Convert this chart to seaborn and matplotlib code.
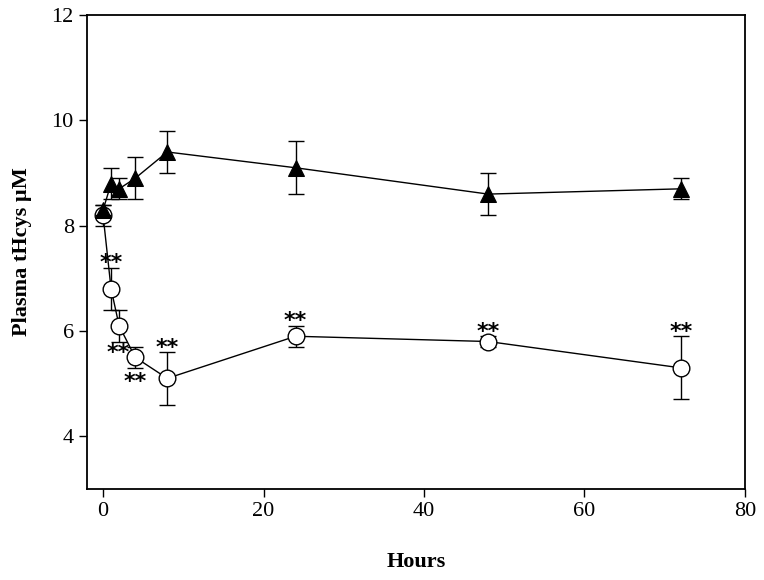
import matplotlib
matplotlib.use("Agg")
import matplotlib.pyplot as plt
import seaborn as sns
import pandas as pd

hours = [0, 1, 2, 4, 8, 24, 48, 72]
tri_mean = [8.3, 8.8, 8.7, 8.9, 9.4, 9.1, 8.6, 8.7]
tri_err = [0.1, 0.3, 0.2, 0.4, 0.4, 0.5, 0.4, 0.2]
circ_mean = [8.2, 6.8, 6.1, 5.5, 5.1, 5.9, 5.8, 5.3]
circ_err = [0.2, 0.4, 0.3, 0.2, 0.5, 0.2, 0.1, 0.6]
# significance markers: (hour index, placement)
sig_idx = [1, 2, 3, 4, 5, 6, 7]
sig_pos = ["above", "belowleft", "below", "above", "above", "above", "above"]

x_ticks = [0, 20, 40, 60, 80]
y_ticks = [4, 6, 8, 10, 12]

sns.set_style("white")
plt.rcParams['font.family'] = ['Liberation Serif', 'DejaVu Serif']
plt.rcParams['text.color'] = 'black'
plt.rcParams['axes.labelcolor'] = 'black'

fig = plt.figure(figsize=(7.64, 5.8), dpi=100)
ax = fig.add_axes([0.1139, 0.157, 0.975 - 0.1139, 0.974 - 0.157])

df_c = pd.DataFrame({"h": hours, "v": circ_mean})
df_t = pd.DataFrame({"h": hours, "v": tri_mean})

ax.errorbar(hours, circ_mean, yerr=circ_err, fmt="none", ecolor="black",
            elinewidth=1, capsize=6, capthick=1, zorder=2)
sns.lineplot(data=df_c, x="h", y="v", ax=ax, color="black", linewidth=1,
             marker="o", markersize=12, markerfacecolor="white",
             markeredgecolor="black", markeredgewidth=1, zorder=3)
ax.errorbar(hours, tri_mean, yerr=tri_err, fmt="none", ecolor="black",
            elinewidth=1, capsize=6, capthick=1, zorder=4)
sns.lineplot(data=df_t, x="h", y="v", ax=ax, color="black", linewidth=1,
             marker="^", markersize=11, markerfacecolor="black",
             markeredgecolor="black", zorder=5)

for i, pos in zip(sig_idx, sig_pos):
    x = hours[i]
    if pos == "above":
        y = circ_mean[i] + circ_err[i]
        off = (0, -4); va = "bottom"; ha = "center"
    elif pos == "below":
        y = circ_mean[i] - circ_err[i]
        off = (0, -3); va = "top"; ha = "center"
    else:
        y = circ_mean[i] - circ_err[i]
        off = (-1, -1); va = "top"; ha = "center"
    ax.annotate("**", (x, y), xytext=off, textcoords="offset points",
                ha=ha, va=va, fontsize=16, fontweight="bold",
                fontfamily="DejaVu Sans", color="black", zorder=6)

ax.set_xlim(-2, 80)
ax.set_ylim(3, 12)
ax.set_xticks(x_ticks)
ax.set_yticks(y_ticks)
ax.tick_params(direction="out", length=6, width=1, labelsize=16,
               bottom=True, left=True, colors="black")
for s in ax.spines.values():
    s.set_visible(True)
    s.set_color("black")
    s.set_linewidth(1.3)
ax.set_xlabel("Hours", fontsize=16, fontweight="bold", labelpad=22, color="black")
ax.set_ylabel("Plasma tHcys µM", fontsize=16, fontweight="bold", labelpad=14, color="black")

fig.savefig("out.png", dpi=100)
